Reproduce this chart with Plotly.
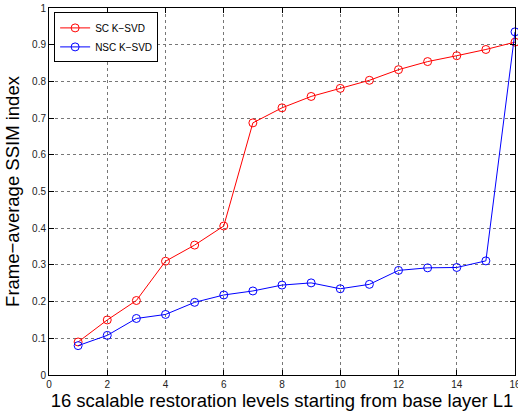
import plotly.graph_objects as go

# Restoration levels L1..L16
levels = list(range(1, 17))

# Frame-average SSIM per level
sc_ksvd = [0.090, 0.150, 0.203, 0.310, 0.354, 0.406, 0.687, 0.728,
           0.759, 0.781, 0.803, 0.832, 0.854, 0.870, 0.887, 0.907]
nsc_ksvd = [0.080, 0.108, 0.154, 0.165, 0.198, 0.218, 0.229, 0.245,
            0.251, 0.235, 0.247, 0.285, 0.292, 0.293, 0.311, 0.935]

x_ticks = list(range(0, 17, 2))
y_ticks = [round(i * 0.1, 1) for i in range(11)]
y_labels = ["0" if v == 0 else ("1" if v == 1 else f"{v:.1f}") for v in y_ticks]

FONT = "Liberation Sans, Arial, Helvetica, sans-serif"

fig = go.Figure()
for name, vals, col in [("SC K\u2212SVD", sc_ksvd, "#ff0000"),
                        ("NSC K\u2212SVD", nsc_ksvd, "#0000ff")]:
    fig.add_trace(go.Scatter(
        x=levels, y=vals, name=name, mode="lines+markers",
        line=dict(color=col, width=1),
        marker=dict(symbol="circle-open", size=8, color=col,
                    line=dict(width=1, color=col)),
        cliponaxis=False,
    ))

axis_common = dict(
    showline=True, linecolor="black", linewidth=1, mirror="allticks",
    ticks="inside", ticklen=5, tickwidth=1, tickcolor="black",
    showgrid=True, gridcolor="#777777", griddash="dot", gridwidth=1,
    zeroline=False, ticklabeloverflow="allow", automargin=False,
    tickfont=dict(family=FONT, size=10, color="#222222"),
)

fig.update_xaxes(
    range=[0, 16], tickvals=x_ticks, ticktext=[str(v) for v in x_ticks],
    title=dict(text="16 scalable restoration levels starting from base layer L1",
               font=dict(family=FONT, size=18.5, color="black"), standoff=3),
    **axis_common,
)
fig.update_yaxes(
    range=[0, 1], tickvals=y_ticks, ticktext=y_labels,
    title=dict(text="Frame\u2212average SSIM index",
               font=dict(family=FONT, size=18.5, color="black"), standoff=7),
    **axis_common,
)

fig.update_layout(
    width=518, height=414,
    margin=dict(l=49, r=3, t=8, b=39),
    plot_bgcolor="white", paper_bgcolor="white",
    showlegend=True,
    legend=dict(
        x=0.011, y=0.988, xanchor="left", yanchor="top",
        bgcolor="white", bordercolor="black", borderwidth=1,
        font=dict(family=FONT, size=10, color="black"),
        tracegroupgap=0, itemwidth=30,
    ),
)

fig.write_html("out.html")
